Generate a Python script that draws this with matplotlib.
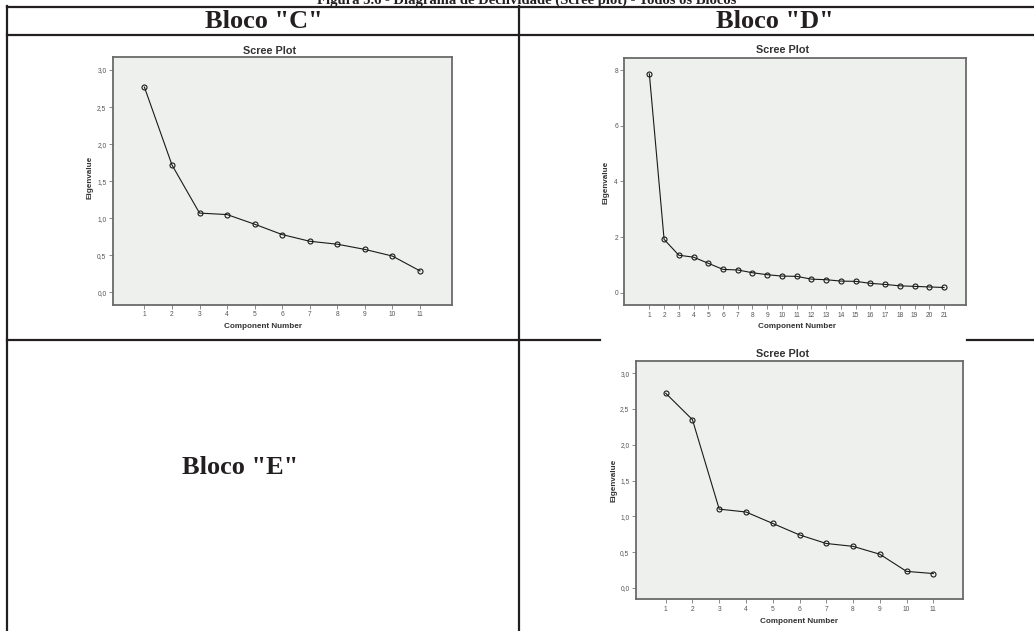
import matplotlib
matplotlib.use("Agg")
import matplotlib.pyplot as plt
from matplotlib.lines import Line2D

W, H = 1034, 631

# ---- data ----
comp_c = list(range(1, 12))
eig_c = [2.77, 1.72, 1.07, 1.05, 0.92, 0.78, 0.69, 0.65, 0.58, 0.49, 0.29]

comp_d = list(range(1, 22))
eig_d = [7.87, 1.92, 1.35, 1.28, 1.06, 0.84, 0.82, 0.72, 0.65, 0.60, 0.59,
         0.49, 0.47, 0.42, 0.41, 0.34, 0.30, 0.25, 0.23, 0.21, 0.19]

comp_e = list(range(1, 12))
eig_e = [2.72, 2.35, 1.10, 1.06, 0.90, 0.74, 0.62, 0.58, 0.47, 0.23, 0.20]

yticks_ce = [0.0, 0.5, 1.0, 1.5, 2.0, 2.5, 3.0]
yticklabels_ce = ["0,0", "0,5", "1,0", "1,5", "2,0", "2,5", "3,0"]
yticks_d = [0, 2, 4, 6, 8]
yticklabels_d = ["0", "2", "4", "6", "8"]

fig_title = "Figura 5.6 - Diagrama de Declividade (Scree plot) - Todos os Blocos"
head_c = 'Bloco "C"'
head_d = 'Bloco "D"'
head_e = 'Bloco "E"'

fig = plt.figure(figsize=(W / 100, H / 100), dpi=100)
fig.patch.set_facecolor("white")


def fx(x):
    return x / W


def fy(y):
    return 1 - y / H


def rect(l, t, r, b):
    return [l / W, 1 - b / H, (r - l) / W, (b - t) / H]


# ---- table lines ----
lw_tab = 1.6
segs = [
    ((7, 7), (7, 1034)),      # top line (y, x range)
    ((35, 35), (7, 1034)),    # header bottom
    ((340, 340), (7, 600)),
    ((340, 340), (967, 1034)),
]
for (y0, y1), (x0, x1) in segs:
    fig.add_artist(Line2D([fx(x0), fx(x1)], [fy(y0), fy(y1)], color="#231f20",
                          lw=lw_tab, transform=fig.transFigure))
for x in (7, 519):
    fig.add_artist(Line2D([fx(x), fx(x)], [fy(6), fy(631)], color="#231f20",
                          lw=lw_tab, transform=fig.transFigure))

serif = ["Liberation Serif", "DejaVu Serif"]
sans = ["Liberation Sans", "DejaVu Sans"]

fig.text(fx(527), fy(4), fig_title, ha="center", va="baseline",
         fontsize=10.5, fontweight="bold", family=serif, color="#231f20")
fig.text(fx(264), fy(22), head_c, ha="center", va="center",
         fontsize=19, fontweight="bold", family=serif, color="#231f20")
fig.text(fx(775), fy(22), head_d, ha="center", va="center",
         fontsize=19, fontweight="bold", family=serif, color="#231f20")
fig.text(fx(240), fy(468), head_e, ha="center", va="center",
         fontsize=19, fontweight="bold", family=serif, color="#231f20")


def scree(box, comps, vals, xlim, ylim, yt, ytl, title_xy, xl_xy, yl_xy):
    ax = fig.add_axes(rect(*box))
    ax.set_facecolor("#eef0ee")
    ax.plot(comps, vals, color="#1a1a1a", lw=0.8, marker="o", markersize=3.6,
            mfc="none", mec="#1a1a1a", mew=0.8)
    ax.set_xlim(*xlim)
    ax.set_ylim(*ylim)
    ax.set_xticks(comps)
    ax.set_xticklabels([str(c) for c in comps])
    ax.set_yticks(yt)
    ax.set_yticklabels(ytl)
    for s in ax.spines.values():
        s.set_color("#6a6a6a")
        s.set_linewidth(1.3)
    ax.tick_params(direction="out", length=3, width=0.6, color="#777777",
                   labelcolor="#555555", labelsize=4.8, pad=1.5)
    for lab in ax.get_xticklabels() + ax.get_yticklabels():
        lab.set_family(sans)
    fig.text(fx(title_xy[0]), fy(title_xy[1]), "Scree Plot", ha="center",
             va="center", fontsize=7.8, fontweight="bold", family=sans,
             color="#333333")
    fig.text(fx(xl_xy[0]), fy(xl_xy[1]), "Component Number", ha="center",
             va="center", fontsize=5.9, fontweight="bold", family=sans,
             color="#333333")
    fig.text(fx(yl_xy[0]), fy(yl_xy[1]), "Eigenvalue", ha="center",
             va="center", rotation=90, fontsize=5.9, fontweight="bold",
             family=sans, color="#333333")
    return ax


scree((112.7, 56.7, 451.7, 305), comp_c, eig_c, (-0.15, 12.15), (-0.17, 3.18),
      yticks_ce, yticklabels_ce, (270, 50.7), (263, 327), (90, 177))
scree((624.3, 57.7, 965.7, 305.3), comp_d, eig_d, (-0.7, 22.47), (-0.45, 8.45),
      yticks_d, yticklabels_d, (783, 50), (797, 327), (606, 182))
scree((635.7, 361, 963.3, 599.3), comp_e, eig_e, (-0.12, 12.12), (-0.16, 3.17),
      yticks_ce, yticklabels_ce, (783, 354), (799, 621.7), (614, 480))

fig.savefig("out.png", dpi=100, facecolor="white")
